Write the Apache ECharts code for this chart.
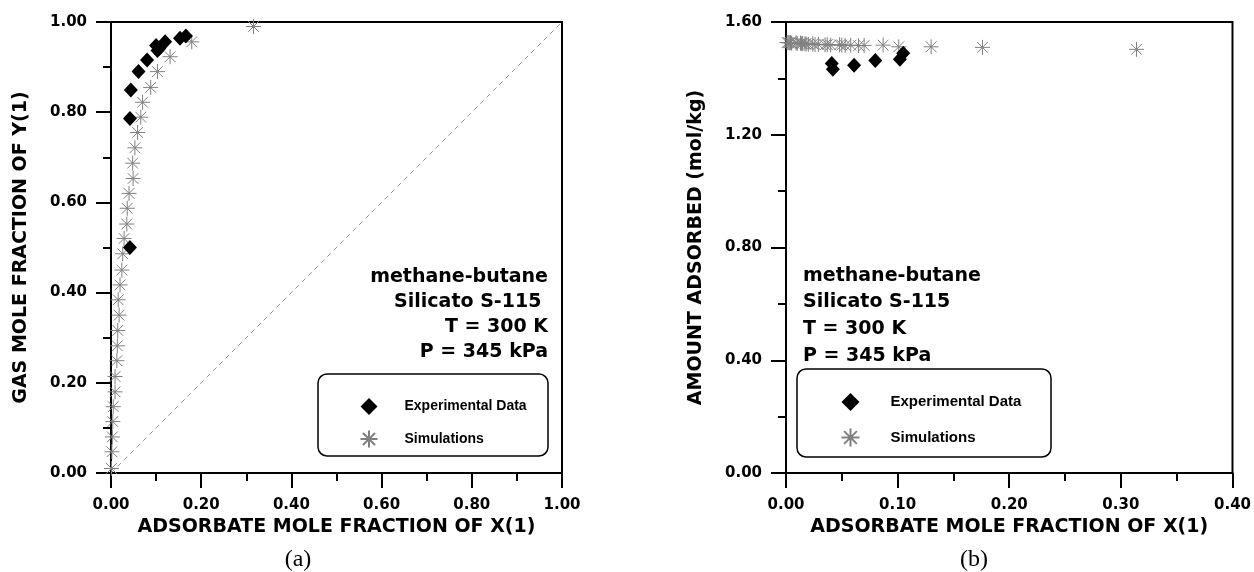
<!DOCTYPE html>
<html>
<head>
<meta charset="utf-8">
<script src="https://cdn.jsdelivr.net/npm/echarts@6/dist/echarts.min.js"></script>
<style>
  html, body { margin: 0; padding: 0; background: #fff; }
  #chart { width: 1254px; height: 572px; }
</style>
</head>
<body>
<div id="chart"></div>
<script>
// (a) gas mole fraction vs adsorbate mole fraction
const expLeft = [[0.042, 0.500], [0.042, 0.786], [0.044, 0.849], [0.061, 0.890], [0.080, 0.916], [0.100, 0.948],
  [0.103, 0.937], [0.107, 0.941], [0.120, 0.956], [0.153, 0.964], [0.166, 0.969]];
const simLeft = [[0.001, 0.010], [0.002, 0.047], [0.003, 0.080], [0.004, 0.114], [0.005, 0.147], [0.009, 0.180],
  [0.009, 0.214], [0.013, 0.249], [0.014, 0.282], [0.015, 0.316], [0.018, 0.350], [0.016, 0.384], [0.020, 0.417],
  [0.024, 0.450], [0.026, 0.486], [0.029, 0.520], [0.035, 0.552], [0.036, 0.587], [0.040, 0.620], [0.049, 0.653],
  [0.048, 0.687], [0.053, 0.721], [0.059, 0.755], [0.066, 0.789], [0.070, 0.822], [0.088, 0.855], [0.103, 0.890],
  [0.131, 0.923], [0.179, 0.956], [0.316, 0.990]];
const diagonal = [[0, 0], [1, 1]];

// (b) amount adsorbed vs adsorbate mole fraction
const expRight = [[0.042, 1.432], [0.041, 1.453], [0.061, 1.447], [0.080, 1.463], [0.102, 1.468], [0.105, 1.489]];
const simRight = [[0.001, 1.527], [0.002, 1.527], [0.003, 1.526], [0.004, 1.527], [0.005, 1.525], [0.009, 1.526],
  [0.010, 1.524], [0.013, 1.525], [0.014, 1.523], [0.015, 1.524], [0.018, 1.522], [0.017, 1.523], [0.020, 1.521],
  [0.024, 1.522], [0.026, 1.520], [0.029, 1.521], [0.035, 1.519], [0.037, 1.520], [0.040, 1.518], [0.048, 1.519],
  [0.050, 1.518], [0.053, 1.517], [0.058, 1.518], [0.065, 1.516], [0.070, 1.517], [0.087, 1.518], [0.101, 1.512],
  [0.130, 1.512], [0.176, 1.510], [0.314, 1.503]];

const infoLines = ['methane-butane', 'Silicato S-115 ', 'T = 300 K', 'P = 345 kPa'];
const seriesNames = ['Experimental Data', 'Simulations'];
const xTitle = 'ADSORBATE MOLE FRACTION OF X(1)';
const yTitleLeft = 'GAS MOLE FRACTION OF Y(1)';
const yTitleRight = 'AMOUNT ADSORBED (mol/kg)';

const FONT = 'DejaVu Sans';
const LEGEND_FONT = 'Liberation Sans';
const STAR = 'path://M8,0L8,16M0,8L16,8M2.3,2.3L13.7,13.7M2.3,13.7L13.7,2.3';

const chart = echarts.init(document.getElementById('chart'));

function makeX(gridIndex, max, interval) {
  return {
    type: 'value',
    gridIndex: gridIndex,
    min: 0,
    max: max,
    interval: interval,
    name: xTitle,
    nameLocation: 'middle',
    nameGap: 45,
    nameTextStyle: { fontFamily: FONT, fontWeight: 'bold', fontSize: 19, color: '#000' },
    axisLine: { show: true, onZero: false, lineStyle: { color: '#000', width: 2 } },
    axisTick: { show: true, length: 15, lineStyle: { color: '#000', width: 2 } },
    minorTick: { show: true, splitNumber: 2, length: 8, lineStyle: { color: '#000', width: 2 } },
    splitLine: { show: false },
    axisLabel: {
      margin: 25,
      fontFamily: FONT, fontWeight: 'bold', fontSize: 15, color: '#000',
      formatter: (v) => v.toFixed(2)
    }
  };
}

function makeY(gridIndex, max, interval, title) {
  return {
    type: 'value',
    gridIndex: gridIndex,
    min: 0,
    max: max,
    interval: interval,
    name: title,
    nameLocation: 'middle',
    nameGap: 80,
    nameTextStyle: { fontFamily: FONT, fontWeight: 'bold', fontSize: 19, color: '#000' },
    axisLine: { show: true, onZero: false, lineStyle: { color: '#000', width: 2 } },
    axisTick: { show: true, length: 15, lineStyle: { color: '#000', width: 2 } },
    minorTick: { show: true, splitNumber: 2, length: 8, lineStyle: { color: '#000', width: 2 } },
    splitLine: { show: false },
    axisLabel: {
      margin: 24,
      fontFamily: FONT, fontWeight: 'bold', fontSize: 15, color: '#000',
      formatter: (v) => v.toFixed(2)
    }
  };
}

function infoText(x, ys, align) {
  return infoLines.map((line, i) => ({
    type: 'text',
    x: x,
    y: ys[i],
    style: {
      text: line,
      fill: '#000',
      font: 'bold 19px "' + FONT + '"',
      align: align,
      verticalAlign: 'middle'
    }
  }));
}

const simStyle = { color: 'none', borderColor: '#808080', borderWidth: 1, opacity: 1 };
const expStyle = { color: '#000', opacity: 1 };

const option = {
  animation: false,
  backgroundColor: '#fff',
  grid: [
    { left: 111, top: 22, width: 451, height: 451, show: true, borderColor: '#000', borderWidth: 2, backgroundColor: 'transparent' },
    { left: 786, top: 22, width: 449, height: 451, show: true, borderColor: '#000', borderWidth: 2, backgroundColor: 'transparent' }
  ],
  xAxis: [makeX(0, 1, 0.2), makeX(1, 0.4, 0.1)],
  yAxis: [makeY(0, 1, 0.2, yTitleLeft), makeY(1, 1.6, 0.4, yTitleRight)],
  legend: [
    {
      data: seriesNames,
      orient: 'vertical',
      left: 353,
      top: 393,
      itemWidth: 17,
      itemHeight: 17,
      itemGap: 13,
      selectedMode: false,
      textStyle: { fontFamily: LEGEND_FONT, fontWeight: 'bold', fontSize: 14, color: '#000', padding: [0, 0, 0, 22] }
    },
    {
      data: seriesNames,
      orient: 'vertical',
      left: 834,
      top: 388,
      itemWidth: 18,
      itemHeight: 18,
      itemGap: 15,
      selectedMode: false,
      textStyle: { fontFamily: LEGEND_FONT, fontWeight: 'bold', fontSize: 15, color: '#000', padding: [0, 0, 0, 26] }
    }
  ],
  graphic: [
    { type: 'rect', shape: { x: 318, y: 374, width: 230, height: 82, r: 9 }, style: { fill: 'none', stroke: '#000', lineWidth: 1.5 } },
    { type: 'rect', shape: { x: 797, y: 369, width: 254, height: 88, r: 9 }, style: { fill: 'none', stroke: '#000', lineWidth: 1.5 } },
    ...infoText(548, [277, 302, 327, 352], 'right'),
    ...infoText(803, [276, 302.5, 329, 356], 'left'),
    { type: 'text', x: 298, y: 560, style: { text: '(a)', fill: '#000', font: '24px "Liberation Serif"', align: 'center', verticalAlign: 'middle' } },
    { type: 'text', x: 974, y: 560, style: { text: '(b)', fill: '#000', font: '24px "Liberation Serif"', align: 'center', verticalAlign: 'middle' } }
  ],
  series: [
    {
      type: 'line',
      xAxisIndex: 0,
      yAxisIndex: 0,
      data: diagonal,
      symbol: 'none',
      silent: true,
      lineStyle: { color: '#999', width: 1, type: [5, 4] }
    },
    {
      name: 'Simulations',
      type: 'scatter',
      xAxisIndex: 0,
      yAxisIndex: 0,
      data: simLeft,
      symbol: STAR,
      symbolSize: 15,
      itemStyle: simStyle
    },
    {
      name: 'Experimental Data',
      type: 'scatter',
      xAxisIndex: 0,
      yAxisIndex: 0,
      data: expLeft,
      symbol: 'diamond',
      symbolSize: [14, 15],
      itemStyle: expStyle
    },
    {
      name: 'Simulations',
      type: 'scatter',
      xAxisIndex: 1,
      yAxisIndex: 1,
      data: simRight,
      symbol: STAR,
      symbolSize: 15,
      itemStyle: simStyle
    },
    {
      name: 'Experimental Data',
      type: 'scatter',
      xAxisIndex: 1,
      yAxisIndex: 1,
      data: expRight,
      symbol: 'diamond',
      symbolSize: [14, 15],
      itemStyle: expStyle
    }
  ]
};

chart.setOption(option);
</script>
</body>
</html>
